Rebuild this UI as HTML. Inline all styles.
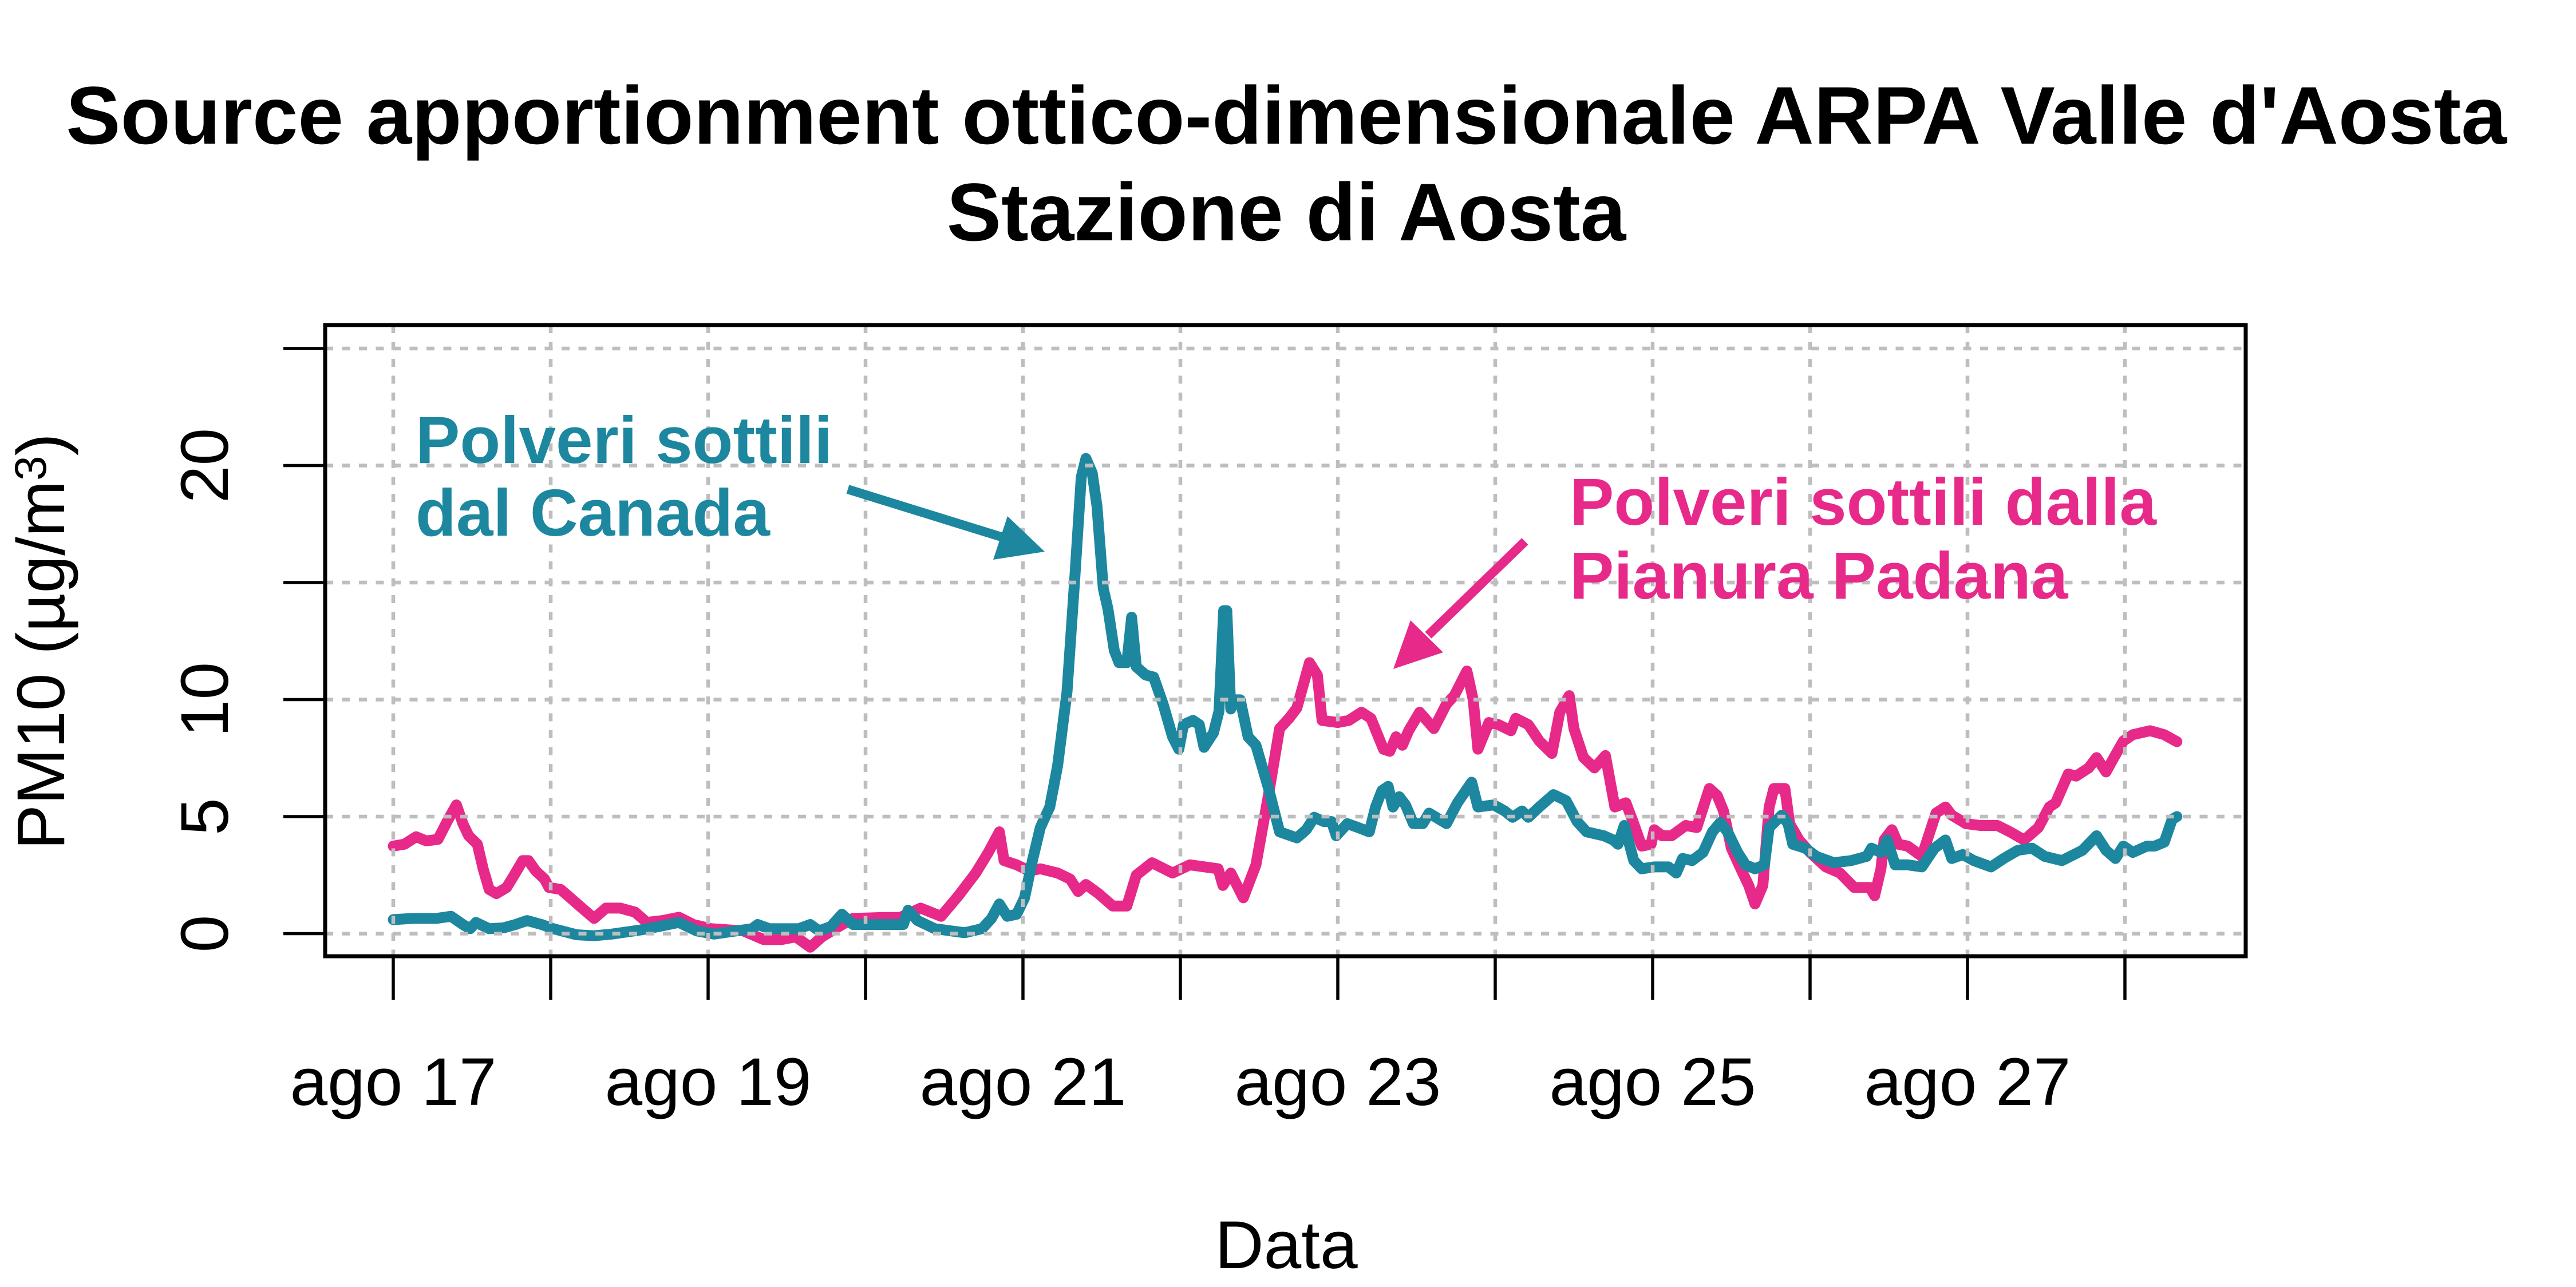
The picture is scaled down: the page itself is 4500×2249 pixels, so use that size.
<!DOCTYPE html>
<html>
<head>
<meta charset="utf-8">
<style>
  html, body { margin: 0; padding: 0; background: #ffffff; }
  svg { display: block; }
  text { font-family: "Liberation Sans", Arial, sans-serif; }
</style>
</head>
<body>
<svg width="4500" height="2249" viewBox="0 0 4500 2249" xmlns="http://www.w3.org/2000/svg">
  <rect x="0" y="0" width="4500" height="2249" fill="#ffffff"/>

  <!-- Title -->
  <text x="2247" y="251" font-size="143" font-weight="bold" text-anchor="middle" fill="#000">Source apportionment ottico-dimensionale ARPA Valle d'Aosta</text>
  <text x="2247" y="420" font-size="143" font-weight="bold" text-anchor="middle" fill="#000">Stazione di Aosta</text>

  <!-- Series -->
  <g fill="none" stroke-linejoin="round" stroke-linecap="round" stroke-width="19">
    <polyline stroke="#E7298A" points="
687,1478.5 706.3,1475.3 726.9,1462.2 744.8,1469.5 765.1,1466.7 783,1431.9 797.3,1406.6 808.6,1439.3 818.7,1460.5 833.9,1475.3 844,1518.2 854.5,1554.2 867.1,1561.6 885,1550.9 900.4,1525.6 913.1,1503.9 923.2,1503.9 935.9,1521.9 951.3,1536.2 959,1550.9 979.3,1554.2 992,1565.2 1012.6,1583.2 1037.9,1604.9 1058.5,1586.9 1083.8,1586.9 1109.4,1593.9 1129.8,1611.9 1158.1,1608.6 1185.9,1602.9 1211.4,1615.6 1242.2,1622.9 1298.3,1626.6 1334.1,1641.9 1364.9,1641.9 1390.2,1637.2 1415.5,1655.2 1435.8,1637.2
1465.3,1619.2 1490,1604.9 1542.3,1603.3 1572.5,1603.3 1608.3,1586.9 1644,1601.2 1674.3,1565.2 1704.5,1525.6 1726.5,1489.6 1745.8,1453.6 1754,1503.9 1776,1511.3 1798,1521.9 1817.3,1518.2 1847.5,1525.6 1869.5,1536.2 1883.3,1557.9 1897,1545.6 1919,1561.6 1943.8,1583.2 1968.5,1583.2 1985,1529.3 2012.5,1507.6 2048.3,1525.6 2078.5,1511.3 2128,1518.2 2136.3,1547.3 2150,1525.6 2172,1568.9 2194,1511.3 2216,1388.6 2235.3,1273.2
2251.8,1255.2 2265.5,1237.2 2287.5,1157.9 2301.3,1179.6 2309.5,1258.9 2337,1262.6 2356.3,1258.9 2378.3,1244.6 2394.8,1255.2 2416.8,1309.2 2427.8,1312.9 2438.8,1287.5 2449.8,1302.3 2460.8,1276.9 2480,1244.6 2504.8,1273.2 2526.8,1230.3 2540.5,1215.6 2562.5,1172.6 2573.5,1222.9 2581.8,1309.2 2601,1262.6 2617.5,1266.3 2639.5,1276.9 2647.8,1255.2 2669.8,1266.3 2689,1294.9 2711,1316.6 2724.8,1244.6 2741.3,1215.6 2749.5,1273.2 2766,1323.5 2785.3,1341.9 2804.5,1320.3 2821,1410.2 2840.3,1402.9 2854,1439.3 2867.8,1478.5 2884.3,1475.3 2889.8,1449.9 2903.5,1460.5 2920,1460.5 2944.8,1442.5 2964,1446.2 2986,1377.9 2999.8,1390.2
3010.8,1417.2 3024.5,1482.2 3041,1518.2 3054.8,1547.3 3065.8,1579.6 3079.5,1547.3 3090.5,1410.2 3098.8,1377.9 3118,1377.9 3126.3,1439.3 3142.8,1467.9 3162,1489.6 3189.5,1514.9 3214.3,1525.6 3239,1550.9 3266.5,1550.9 3274.8,1565.2 3285.8,1518.2 3291.3,1467.9 3305,1449.9 3316,1475.3 3332.5,1478.5 3357.3,1496.5 3382,1420.9 3398.5,1410.2 3409.5,1424.5 3434.3,1439.3 3459,1442.5 3489.3,1442.5 3511.3,1453.6 3536,1467.9 3560.8,1446.2 3580,1410.2 3591,1402.9 3613,1352.6 3626.8,1356.2 3648.8,1341.9 3662.5,1323.9 3679,1348.9 3692.8,1323.9 3709.3,1294.9 3725.8,1283.9 3756,1276.9 3780.8,1283.9 3802.8,1296.1"/>
    <polyline stroke="#1C879F" points="
687,1607 721.7,1604.9 762.6,1604.9 787.9,1601.2 808.6,1615.6 821.2,1622.9 831.4,1611.9 854.5,1622.9 879.8,1621.3 900.4,1615.6 920.8,1608.6 946.1,1615.6 966.7,1622.9 1007.4,1633.5 1037.9,1635.2 1068.7,1632.3 1119.6,1625 1150.4,1619.2 1185.9,1611.9 1216.7,1626.6 1247.2,1632.3 1313.5,1622.9 1323.6,1615.6 1344.3,1622.9 1395.1,1622.9 1415.5,1615.6 1430.9,1626.6 1451.2,1619.2
1470.8,1597.6 1490,1615.6 1542.3,1615.6 1578,1615.6 1586.3,1590.6 1602.8,1608.6 1633,1622.9 1685.3,1629.9 1715.5,1622.9 1732,1604.9 1745.8,1579.6 1759.5,1601.2 1776,1597.6 1789.8,1568.9 1803.5,1503.9 1817.3,1446.2 1833.8,1410.2 1847.5,1338.3 1864,1208.6 1877.8,1006.6 1888.8,834 1897,801.2 1908,826.6 1916.3,884.3 1927.3,1028.2 1935.5,1064.2 1946.5,1136.6 1954.8,1157.9 1968.5,1157.9 1976.8,1078.5 1985,1165.2 2001.5,1179.6 2015.3,1183.2 2031.8,1230.3 2048.3,1287.5 2059.3,1309.2 2067.5,1266.3 2084,1258.9 2095,1266.3 2103.3,1305.9 2119.8,1280.6 2129.4,1243 2137.6,1067.1 2143.1,1067.1 2150,1238.9 2158.3,1222.9 2166.5,1222.9 2180.3,1287.5 2194,1302.3 2216,1377.9
2235.3,1453.6 2265.5,1464.2 2282,1449.9 2295.8,1428.2 2312.3,1435.6 2326,1435.6 2334.3,1460.5 2353.5,1439.3 2372.8,1446.2 2392,1453.6 2403,1410.2 2414,1381.6 2425,1374.2 2433.3,1410.2 2444.3,1392.2 2455.3,1406.6 2469,1439.3 2485.5,1439.3 2496.5,1420.9 2526.8,1439.3 2546,1402.9 2570.8,1366.9 2581.8,1410.2 2609.3,1406.6 2628.5,1417.2 2642.3,1428.2 2658.8,1417.2 2669.8,1428.2 2689,1410.2 2713.8,1388.6 2735.8,1399.2 2755,1435.6 2771.5,1453.6 2801.8,1460.5 2818.3,1467.9 2826.5,1475.3 2837.5,1442.5 2854,1503.9 2867.8,1518.2 2889.8,1514.9 2914.5,1514.9 2928.3,1525.6 2939.3,1500.2 2955.8,1503.9 2975,1489.6 2991.5,1453.6
3005.3,1437.2 3019,1455.6 3035.5,1489.6 3049.3,1511.3 3065.8,1518.2 3082.3,1511.3 3090.5,1446.2 3112.5,1424.5 3123.5,1439.3 3131.8,1475.3 3153.8,1482.2 3173,1496.5 3203.3,1507.6 3233.5,1503.9 3261,1496.5 3269.3,1482.2 3285.8,1489.6 3296.8,1467.9 3310.5,1511.3 3332.5,1511.3 3357.3,1514.9 3379.3,1482.2 3398.5,1467.9 3409.5,1500.2 3428.8,1493.3 3448,1503.9 3478.3,1514.9 3500.3,1500.2 3525,1485.9 3549.8,1482.2 3571.8,1496.5 3602,1503.9 3637.8,1485.9 3662.5,1460.5 3679,1485.9 3695.5,1500.2 3709.3,1478.5 3725.8,1489.6 3750.5,1478.5 3764.3,1478.5 3780.8,1471.6 3794.5,1431.9 3802.8,1427"/>
  </g>

  <!-- Grid (drawn over series) -->
  <g stroke="#bebebe" stroke-width="6.5" stroke-dasharray="14 15.5" fill="none">
    <line x1="568" y1="1631.5" x2="3923" y2="1631.5"/>
    <line x1="568" y1="1427" x2="3923" y2="1427"/>
    <line x1="568" y1="1222.5" x2="3923" y2="1222.5"/>
    <line x1="568" y1="1018" x2="3923" y2="1018"/>
    <line x1="568" y1="813.5" x2="3923" y2="813.5"/>
    <line x1="568" y1="609" x2="3923" y2="609"/>
    <line x1="687" y1="568" x2="687" y2="1671"/>
    <line x1="962" y1="568" x2="962" y2="1671"/>
    <line x1="1237" y1="568" x2="1237" y2="1671"/>
    <line x1="1512" y1="568" x2="1512" y2="1671"/>
    <line x1="1787" y1="568" x2="1787" y2="1671"/>
    <line x1="2062" y1="568" x2="2062" y2="1671"/>
    <line x1="2337" y1="568" x2="2337" y2="1671"/>
    <line x1="2612" y1="568" x2="2612" y2="1671"/>
    <line x1="2887" y1="568" x2="2887" y2="1671"/>
    <line x1="3162" y1="568" x2="3162" y2="1671"/>
    <line x1="3437" y1="568" x2="3437" y2="1671"/>
    <line x1="3712" y1="568" x2="3712" y2="1671"/>
  </g>

  <!-- Annotations -->
  <g font-size="116" font-weight="bold" fill="#1C879F">
    <text x="726" y="809">Polveri sottili</text>
    <text x="726" y="936">dal Canada</text>
  </g>
  <line x1="1481" y1="855" x2="1755" y2="940" stroke="#1C879F" stroke-width="16"/>
  <polygon points="1825,964 1760,902 1735,978" fill="#1C879F"/>

  <g font-size="116" font-weight="bold" fill="#E7298A">
    <text x="2742" y="917">Polveri sottili dalla</text>
    <text x="2742" y="1046">Pianura Padana</text>
  </g>
  <line x1="2664" y1="946" x2="2495" y2="1110" stroke="#E7298A" stroke-width="16"/>
  <polygon points="2434,1169 2464,1084 2521,1140" fill="#E7298A"/>

  <!-- Box -->
  <rect x="568" y="568" width="3355" height="1103" fill="none" stroke="#000" stroke-width="7"/>

  <!-- Y axis ticks -->
  <g stroke="#000" stroke-width="5.5">
    <line x1="495" y1="1631.5" x2="568" y2="1631.5"/>
    <line x1="495" y1="1427" x2="568" y2="1427"/>
    <line x1="495" y1="1222.5" x2="568" y2="1222.5"/>
    <line x1="495" y1="1018" x2="568" y2="1018"/>
    <line x1="495" y1="813.5" x2="568" y2="813.5"/>
    <line x1="495" y1="609" x2="568" y2="609"/>
  </g>
  <g font-size="118" fill="#000" text-anchor="middle">
    <text transform="translate(398,1631.5) rotate(-90)">0</text>
    <text transform="translate(398,1427) rotate(-90)">5</text>
    <text transform="translate(398,1222.5) rotate(-90)">10</text>
    <text transform="translate(398,813.5) rotate(-90)">20</text>
  </g>

  <!-- X axis ticks -->
  <g stroke="#000" stroke-width="5.5">
    <line x1="687" y1="1671" x2="687" y2="1747"/>
    <line x1="962" y1="1671" x2="962" y2="1747"/>
    <line x1="1237" y1="1671" x2="1237" y2="1747"/>
    <line x1="1512" y1="1671" x2="1512" y2="1747"/>
    <line x1="1787" y1="1671" x2="1787" y2="1747"/>
    <line x1="2062" y1="1671" x2="2062" y2="1747"/>
    <line x1="2337" y1="1671" x2="2337" y2="1747"/>
    <line x1="2612" y1="1671" x2="2612" y2="1747"/>
    <line x1="2887" y1="1671" x2="2887" y2="1747"/>
    <line x1="3162" y1="1671" x2="3162" y2="1747"/>
    <line x1="3437" y1="1671" x2="3437" y2="1747"/>
    <line x1="3712" y1="1671" x2="3712" y2="1747"/>
  </g>
  <g font-size="118" fill="#000" text-anchor="middle">
    <text x="687" y="1931">ago 17</text>
    <text x="1237" y="1931">ago 19</text>
    <text x="1787" y="1931">ago 21</text>
    <text x="2337" y="1931">ago 23</text>
    <text x="2887" y="1931">ago 25</text>
    <text x="3437" y="1931">ago 27</text>
  </g>

  <!-- Axis titles -->
  <text x="2247" y="2216" font-size="118" text-anchor="middle" fill="#000">Data</text>
  <text transform="translate(112,1121) rotate(-90)" font-size="118" text-anchor="middle" fill="#000">PM10 (µg/m<tspan font-size="78" dy="-32">3</tspan><tspan dy="32">)</tspan></text>
</svg>
</body>
</html>
